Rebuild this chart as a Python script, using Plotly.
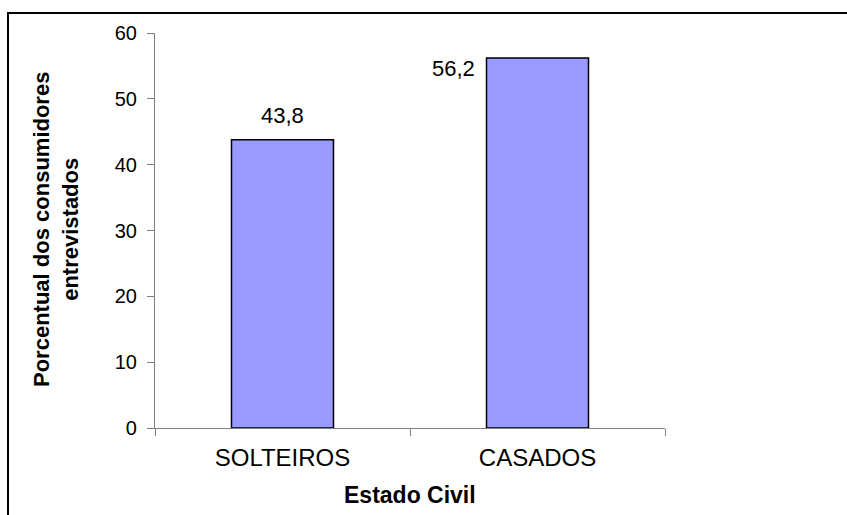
import plotly.graph_objects as go

categories = ["SOLTEIROS", "CASADOS"]
values = [43.8, 56.2]
value_labels = ["43,8", "56,2"]
y_ticks = [0, 10, 20, 30, 40, 50, 60]

W, H = 847, 515
L, R, T, B = 155, 665, 33, 428

def px(x):
    return (x - L) / (R - L)

def py(y):
    return (B - y) / (B - T)

FONT = "Liberation Sans, Arial, sans-serif"

fig = go.Figure()
fig.add_trace(go.Bar(
    x=categories, y=values, width=0.4,
    marker=dict(color="#9999FF", line=dict(color="black", width=1.5)),
    hoverinfo="skip",
))

# data labels
fig.add_annotation(x=categories[0], y=values[0], text=value_labels[0], showarrow=False,
                   xanchor="center", yanchor="bottom", yshift=10, font=dict(size=22, color="black"))
fig.add_annotation(x=categories[1], y=values[1], text=value_labels[1], showarrow=False,
                   xanchor="right", yanchor="middle", xshift=-61, yshift=-10,
                   font=dict(size=22, color="black"))

# axis titles
fig.add_annotation(xref="paper", yref="paper", x=px(56), y=py(230),
                   xanchor="center", yanchor="middle",
                   text="<b>Porcentual dos consumidores<br>entrevistados</b>",
                   showarrow=False, textangle=-90, font=dict(size=22, color="black"))
fig.add_annotation(xref="paper", yref="paper", x=px(410), y=py(495),
                   xanchor="center", yanchor="middle", text="<b>Estado Civil</b>",
                   showarrow=False, font=dict(size=23, color="black"))

# outer frame
fig.add_shape(type="rect", xref="paper", yref="paper",
              x0=px(8), x1=px(900), y0=py(600), y1=py(13),
              line=dict(color="black", width=2), layer="above")

fig.update_layout(
    width=W, height=H,
    margin=dict(l=L, r=W - R, t=T, b=H - B),
    plot_bgcolor="white", paper_bgcolor="white",
    font=dict(family=FONT, color="black"),
    showlegend=False,
    xaxis=dict(showline=True, linecolor="#808080", linewidth=1.2, ticks="outside",
               tickson="boundaries", ticklen=7, tickcolor="#808080",
               tickfont=dict(size=24), ticklabelstandoff=8,
               showgrid=False, fixedrange=True),
    yaxis=dict(range=[0, 60], tickvals=y_ticks, showline=True, linecolor="#808080",
               linewidth=1.2, ticks="outside", ticklen=7, tickcolor="#808080",
               tickfont=dict(size=20), ticklabelstandoff=6,
               showgrid=False, zeroline=False, fixedrange=True),
)

fig.write_html("out.html")
